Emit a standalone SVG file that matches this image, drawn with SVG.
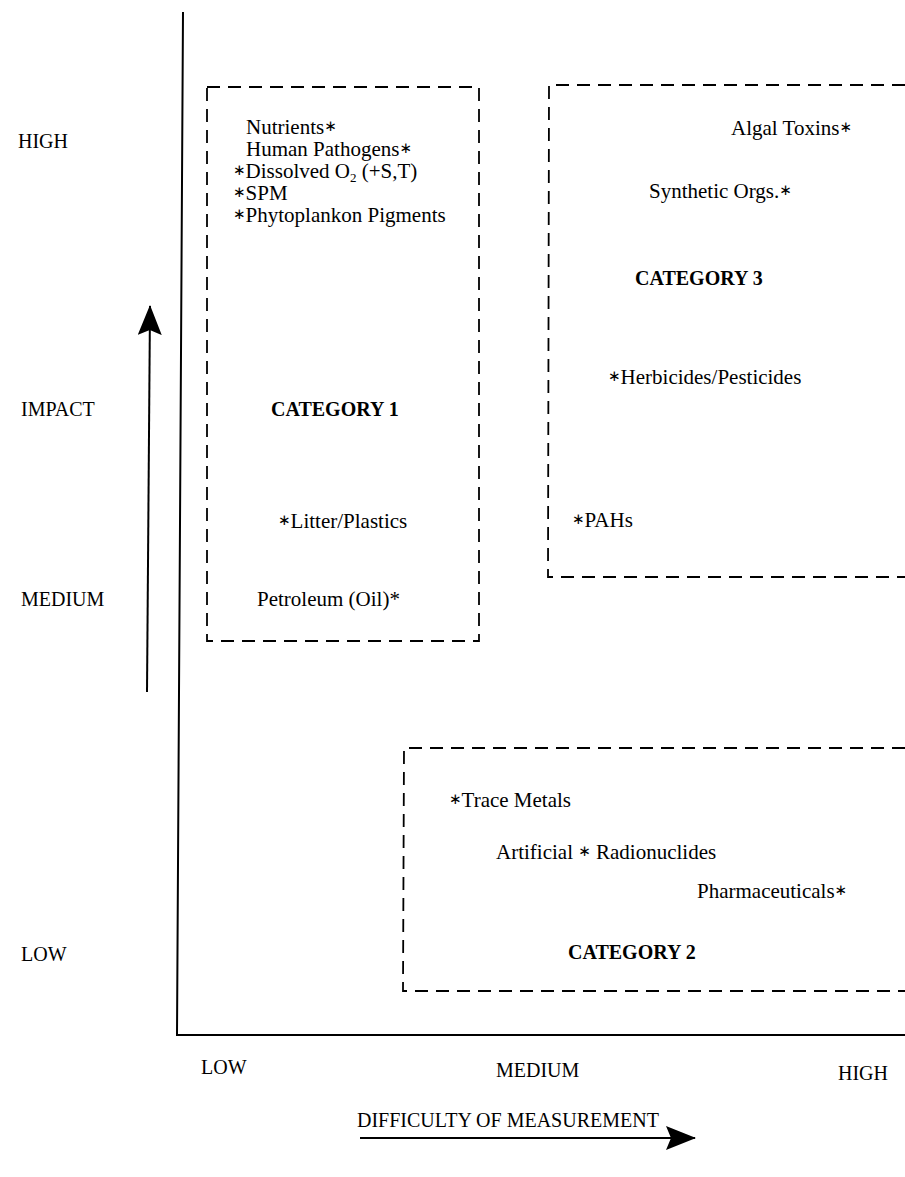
<svg xmlns="http://www.w3.org/2000/svg" width="905" height="1177" viewBox="0 0 905 1177">
<style>
text{font-family:"Liberation Serif","Times New Roman",serif;font-size:21px;fill:#000}
.l{font-size:20px}
.b{font-weight:bold;font-size:20px}
.s{font-family:"DejaVu Sans",sans-serif;font-size:15px;baseline-shift:3px}
.box{fill:none;stroke:#000;stroke-width:1.8;stroke-dasharray:13 8}
.ax{stroke:#000;stroke-width:2;fill:none}
</style>
<defs>
<marker id="ah2" viewBox="0 0 30 24" refX="29" refY="12" markerWidth="30" markerHeight="24" markerUnits="userSpaceOnUse" orient="auto">
<path d="M0,0 L30,12 L0,24 L5,12 Z" fill="#000"/>
</marker>
</defs>
<g id="connectors">
<path class="ax" d="M183,12 L177,1035 L905,1035"/>
<path class="ax" d="M147,692 L150,306" marker-end="url(#ah2)"/>
<path class="ax" d="M360,1138 L695,1138" marker-end="url(#ah2)"/>
</g>
<g id="axis-labels">
<text class="l" x="18" y="148">HIGH</text>
<text class="l" x="21" y="416">IMPACT</text>
<text class="l" x="21" y="606">MEDIUM</text>
<text class="l" x="21" y="961">LOW</text>
<text class="l" x="201" y="1074">LOW</text>
<text class="l" x="496" y="1077">MEDIUM</text>
<text class="l" x="838" y="1080">HIGH</text>
<text class="l" x="357" y="1127">DIFFICULTY OF MEASUREMENT</text>
</g>
<g id="category1">
<rect class="box" x="207" y="87" width="272" height="554"/>
<text x="246" y="134">Nutrients<tspan class="s">∗</tspan></text>
<text x="246" y="156">Human Pathogens<tspan class="s">∗</tspan></text>
<text x="233" y="178"><tspan class="s">∗</tspan>Dissolved O<tspan font-size="13" dy="4">2</tspan><tspan dy="-4"> (+S,T)</tspan></text>
<text x="233" y="200"><tspan class="s">∗</tspan>SPM</text>
<text x="233" y="222"><tspan class="s">∗</tspan>Phytoplankon Pigments</text>
<text class="b" x="271" y="416">CATEGORY 1</text>
<text x="278" y="528"><tspan class="s">∗</tspan>Litter/Plastics</text>
<text x="257" y="606">Petroleum (Oil)*</text>
</g>
<g id="category3">
<path class="box" d="M905,85 L549,85 L548,577 L905,577"/>
<text x="731" y="135">Algal Toxins<tspan class="s">∗</tspan></text>
<text x="649" y="198">Synthetic Orgs.<tspan class="s">∗</tspan></text>
<text class="b" x="635" y="285">CATEGORY 3</text>
<text x="608" y="384"><tspan class="s">∗</tspan>Herbicides/Pesticides</text>
<text x="572" y="527"><tspan class="s">∗</tspan>PAHs</text>
</g>
<g id="category2">
<path class="box" d="M905,748 L404,748 L403,991 L905,991"/>
<text x="449" y="807"><tspan class="s">∗</tspan>Trace Metals</text>
<text x="496" y="859">Artificial <tspan class="s">∗</tspan> Radionuclides</text>
<text x="697" y="898">Pharmaceuticals<tspan class="s">∗</tspan></text>
<text class="b" x="568" y="959">CATEGORY 2</text>
</g>
</svg>
